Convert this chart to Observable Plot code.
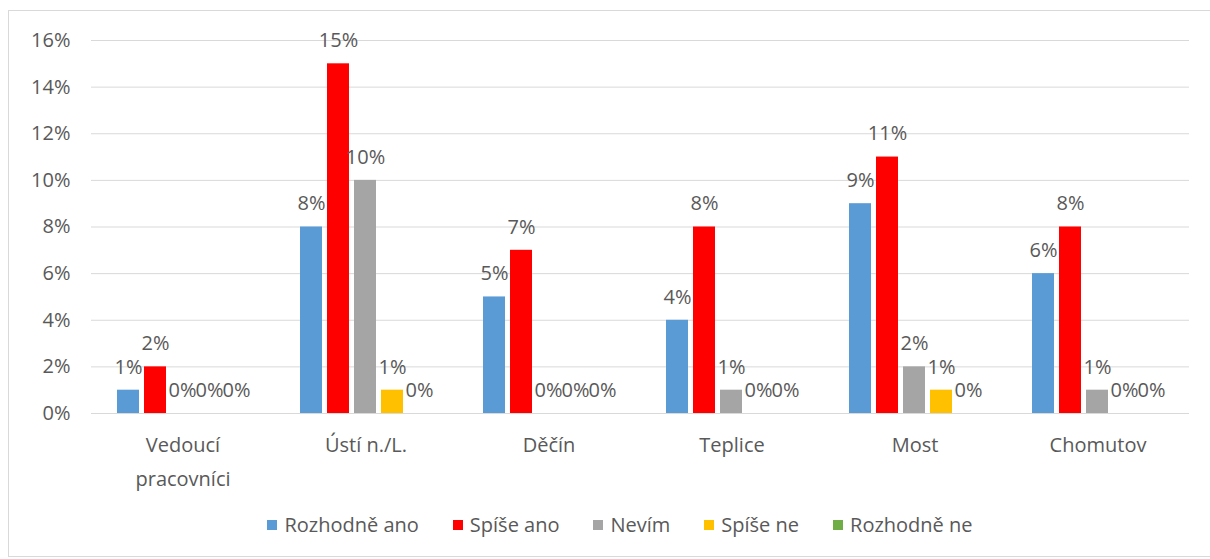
<!DOCTYPE html>
<html>
<head>
<meta charset="utf-8">
<script src="https://cdn.jsdelivr.net/npm/d3@7"></script>
<script src="https://cdn.jsdelivr.net/npm/@observablehq/plot@0.6"></script>
<style>
  body { margin: 0; background: #fff; font-family: "Open Sans", sans-serif; }
  #chart { position: relative; width: 1210px; height: 559px; overflow: hidden; background: #fff; }
  #frame { position: absolute; left: 8px; top: 10px; width: 1220px; height: 547px; border: 1px solid #d9d9d9; box-sizing: border-box; }
  #plot { position: absolute; left: 0; top: 0; }
  #legend { position: absolute; left: 30px; top: 511px; width: 1180px; display: flex; justify-content: center; gap: 34px; font-size: 20px; line-height: 27px; color: #595959; }
  #legend .item { display: flex; align-items: center; gap: 7px; }
  #legend .sw { width: 10px; height: 10px; display: inline-block; }
</style>
</head>
<body>
<div id="chart">
  <div id="frame"></div>
  <div id="plot"></div>
  <div id="legend"></div>
</div>
<script>
// Regions (categories) and answer options (series)
const categories = ["Vedoucí pracovníci", "Ústí n./L.", "Děčín", "Teplice", "Most", "Chomutov"];
const series = ["Rozhodně ano", "Spíše ano", "Nevím", "Spíše ne", "Rozhodně ne"];

// Share of answers per region, in percent
const rozhodneAno = [1, 8, 5, 4, 9, 6];
const spiseAno    = [2, 15, 7, 8, 11, 8];
const nevim       = [0, 10, 0, 1, 2, 1];
const spiseNe     = [0, 1, 0, 0, 1, 0];
const rozhodneNe  = [0, 0, 0, 0, 0, 0];

const colors = ["#5B9BD5", "#FF0000", "#A5A5A5", "#FFC000", "#70AD47"];
const yTicks = [0, 2, 4, 6, 8, 10, 12, 14, 16];

const values = [rozhodneAno, spiseAno, nevim, spiseNe, rozhodneNe];
const data = [];
categories.forEach((cat, i) => {
  series.forEach((s, j) => data.push({cat, series: s, value: values[j][i]}));
});

const textColor = "#595959";
const fontSize = 20;

const chart = Plot.plot({
  width: 1210,
  height: 510,
  marginLeft: 90,
  marginRight: 20,
  marginTop: 40,
  marginBottom: 97,
  style: {fontFamily: "'Open Sans', sans-serif", fontSize: fontSize + "px", color: textColor, background: "transparent"},
  fx: {domain: categories, padding: 0, axis: null, label: null},
  x: {domain: series, paddingInner: 0.18, paddingOuter: 0.86, axis: null},
  y: {domain: [0, 16], label: null, axis: null},
  color: {domain: series, range: colors},
  marks: [
    Plot.gridY(yTicks, {stroke: "#d9d9d9", strokeOpacity: 1, strokeWidth: 1}),
    Plot.axisY(yTicks, {
      tickSize: 0, tickPadding: 21, tickFormat: d => d + "%",
      fontSize, fill: textColor, label: null
    }),
    Plot.barY(data, {fx: "cat", x: "series", y: "value", fill: "series"}),
    Plot.text(data, {
      fx: "cat", x: "series", y: "value",
      text: d => d.value + "%", dy: -23, fontSize, fill: textColor
    }),
    Plot.text(categories, {
      fx: d => d,
      text: d => d === "Vedoucí pracovníci" ? "Vedoucí\npracovníci" : d,
      frameAnchor: "bottom", lineAnchor: "top", dy: 14,
      lineHeight: 1.7, fontSize, fill: textColor
    })
  ]
});
document.getElementById("plot").appendChild(chart);

// Legend below the chart
const legend = document.getElementById("legend");
series.forEach((s, i) => {
  const item = document.createElement("div");
  item.className = "item";
  const sw = document.createElement("span");
  sw.className = "sw";
  sw.style.background = colors[i];
  const label = document.createElement("span");
  label.textContent = s;
  item.appendChild(sw);
  item.appendChild(label);
  legend.appendChild(item);
});
</script>
</body>
</html>
